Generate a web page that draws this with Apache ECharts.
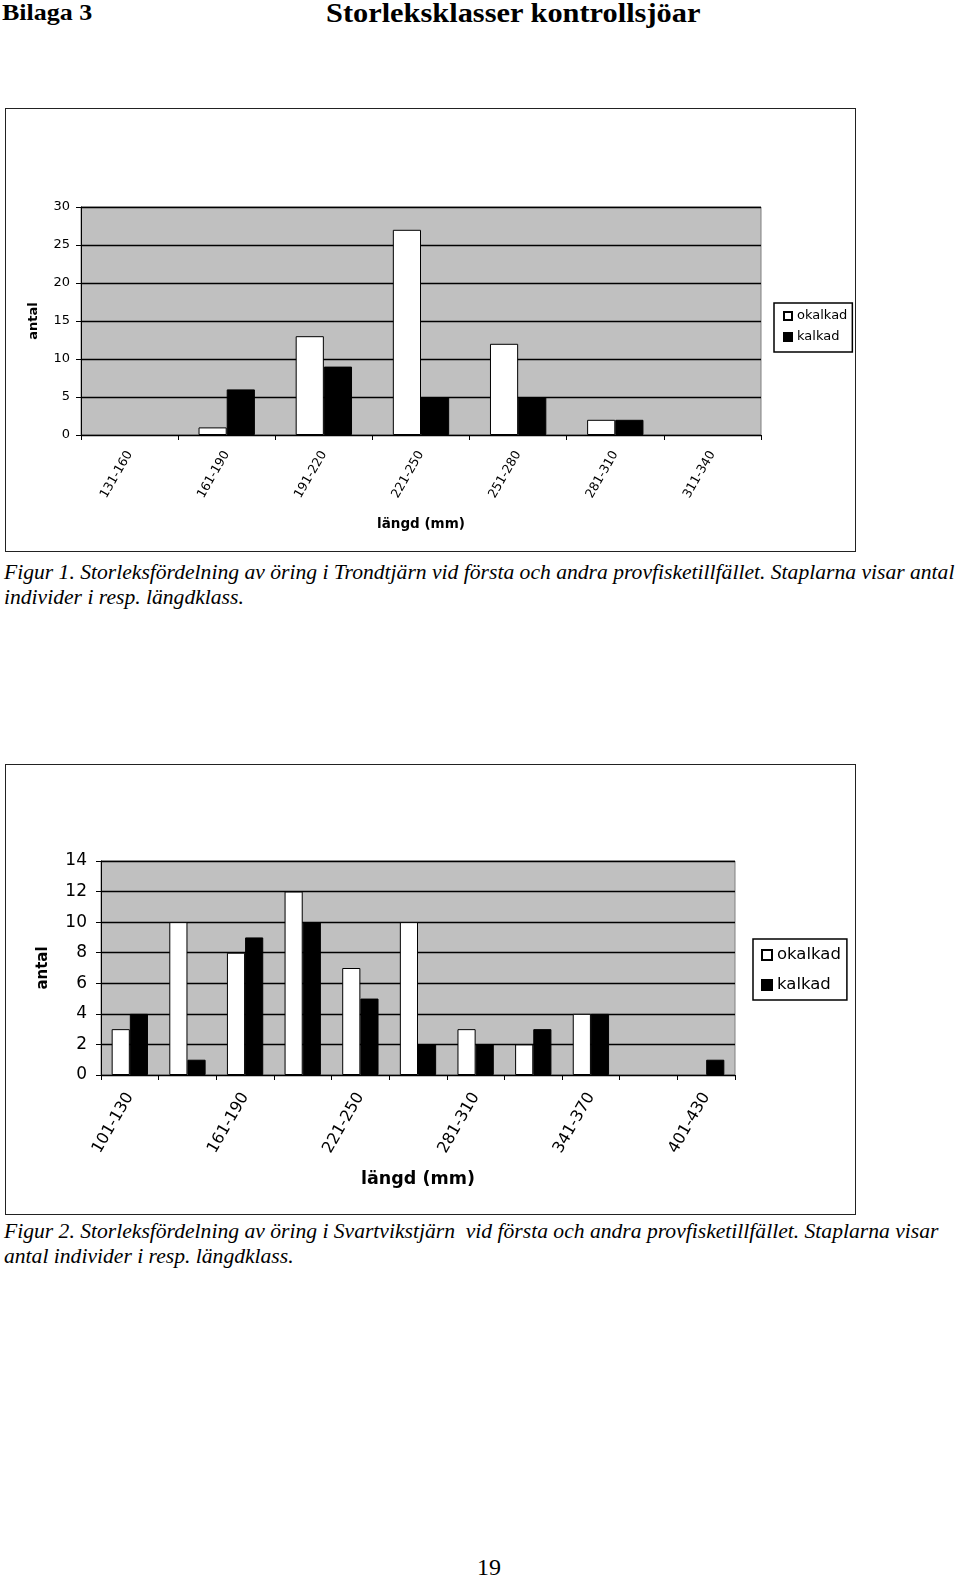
<!DOCTYPE html>
<html><head><meta charset="utf-8">
<script src="https://cdn.jsdelivr.net/npm/echarts@6/dist/echarts.min.js"></script>
<style>
html,body{margin:0;padding:0;background:#fff;}
body{width:960px;height:1579px;position:relative;overflow:hidden;font-family:"Liberation Serif",serif;}
.t{position:absolute;white-space:nowrap;color:#000;transform-origin:0 0;}
.box{position:absolute;border:1px solid #222;box-sizing:border-box;background:#fff;}
.cap{font-style:italic;font-size:20px;line-height:25px;transform:scaleX(1.08);}
</style></head>
<body>
<div class="t" style="left:2px;top:0px;font-weight:bold;font-size:23px;line-height:26px;transform:scaleX(1.13);">Bilaga 3</div>
<div class="t" style="left:326px;top:-2px;font-weight:bold;font-size:27px;line-height:30px;transform:scaleX(1.125);">Storleksklasser kontrollsjöar</div>
<div class="box" id="c1" style="left:5px;top:108px;width:851px;height:444px;"></div>
<div class="t cap" style="left:4px;top:560px;">Figur 1. Storleksfördelning av öring i Trondtjärn vid första och andra provfisketillfället. Staplarna visar antal<br>individer i resp. längdklass.</div>
<div class="box" id="c2" style="left:5px;top:764px;width:851px;height:451px;"></div>
<div class="t cap" style="left:4px;top:1219px;">Figur 2. Storleksfördelning av öring i Svartvikstjärn&nbsp; vid första och andra provfisketillfället. Staplarna visar<br>antal individer i resp. längdklass.</div>
<div class="t" style="left:477px;top:1555px;font-size:24px;line-height:24px;">19</div>
<script>
// Figur 1 – Trondtjärn
const fig1Categories = ["131-160","161-190","191-220","221-250","251-280","281-310","311-340"];
const fig1Okalkad = [0, 1, 13, 27, 12, 2, 0];
const fig1Kalkad  = [0, 6, 9, 5, 5, 2, 0];
// Figur 2 – Svartvikstjärn
const fig2Categories = ["101-130","131-160","161-190","191-220","221-250","251-280","281-310","311-340","341-370","371-400","401-430"];
const fig2Okalkad = [3, 10, 8, 12, 7, 10, 3, 2, 4, 0, 0];
const fig2Kalkad  = [4, 1, 9, 10, 5, 2, 2, 3, 4, 0, 1];
const seriesNames = ["okalkad","kalkad"];

const FONT = "DejaVu Sans";

// zero-height bars are not outlined in the original
function barData(arr){
  return arr.map(v => v === 0 ? {value:v, itemStyle:{borderWidth:0, opacity:0}} : v);
}

function makeOption(cfg){
  return {
    animation:false,
    textStyle:{fontFamily:FONT},
    grid:{left:cfg.grid[0],top:cfg.grid[1],width:cfg.grid[2],height:cfg.grid[3],show:true,
      backgroundColor:'#c0c0c0',borderColor:'#808080',borderWidth:1},
    legend:{orient:'vertical',left:cfg.legend[0],top:cfg.legend[1],
      backgroundColor:'#fff',borderColor:'#000',borderWidth:1.5,borderRadius:0,
      padding:cfg.legendPad,itemGap:cfg.legendGap,itemWidth:cfg.icon,itemHeight:cfg.icon,icon:'rect',
      textStyle:{fontFamily:FONT,fontSize:cfg.legendFont,lineHeight:cfg.legendLH,color:'#000'},
      data:seriesNames},
    xAxis:{type:'category',data:cfg.cats,
      name:'längd (mm)',nameLocation:'middle',nameGap:cfg.xNameGap,
      nameTextStyle:{fontFamily:FONT,fontWeight:'bold',fontSize:cfg.xNameFont,color:'#000'},
      axisLine:{lineStyle:{color:'#000',width:1}},
      axisTick:{show:true,interval:0,length:5,lineStyle:{color:'#000'}},
      axisLabel:{rotate:60,interval:cfg.labelInterval,fontSize:cfg.labelFont,color:'#000',margin:cfg.xMargin,fontFamily:FONT},
      splitLine:{show:false}},
    yAxis:{type:'value',min:0,max:cfg.max,interval:cfg.interval,
      name:'antal',nameLocation:'middle',nameGap:cfg.yNameGap,nameRotate:90,
      nameTextStyle:{fontFamily:FONT,fontWeight:'bold',fontSize:cfg.yNameFont,color:'#000'},
      axisLine:{show:true,lineStyle:{color:'#000',width:1}},
      axisTick:{show:true,length:5,lineStyle:{color:'#000'}},
      axisLabel:{fontSize:cfg.yLabelFont,color:'#000',margin:cfg.yMargin,fontFamily:FONT},
      splitLine:{show:true,lineStyle:{color:'#000',width:1.3}}},
    series:[
      {name:seriesNames[0],type:'bar',data:barData(cfg.ok),barGap:'0%',barCategoryGap:cfg.catGap,
        itemStyle:{color:'#fff',borderColor:'#000',borderWidth:1}},
      {name:seriesNames[1],type:'bar',data:barData(cfg.ka),barGap:'0%',barCategoryGap:cfg.catGap,
        itemStyle:{color:'#000',borderColor:'#000',borderWidth:1}}
    ]
  };
}

const c1 = echarts.init(document.getElementById('c1'),null,{renderer:'canvas'});
c1.setOption(makeOption({cats:fig1Categories,ok:fig1Okalkad,ka:fig1Kalkad,
  grid:[75,98,680,228],legend:[768,194],legendPad:[6,5,8,9],legendGap:7,icon:8,legendFont:13,legendLH:14,
  xNameGap:82,yNameGap:41,xNameFont:13.5,yNameFont:13,labelFont:12.5,yLabelFont:13,xMargin:17,yMargin:11,labelInterval:0,
  max:30,interval:5,catGap:'42%'}));

const c2 = echarts.init(document.getElementById('c2'),null,{renderer:'canvas'});
c2.setOption(makeOption({cats:fig2Categories,ok:fig2Okalkad,ka:fig2Kalkad,
  grid:[95,96,634,214],legend:[747,174],legendPad:[7,6,6,8],legendGap:12,icon:10,legendFont:16.5,legendLH:18,
  xNameGap:95,yNameGap:50,xNameFont:17.5,yNameFont:15,labelFont:16,yLabelFont:17,xMargin:19,yMargin:14,labelInterval:1,
  max:14,interval:2,catGap:'37%'}));
</script>
</body></html>
